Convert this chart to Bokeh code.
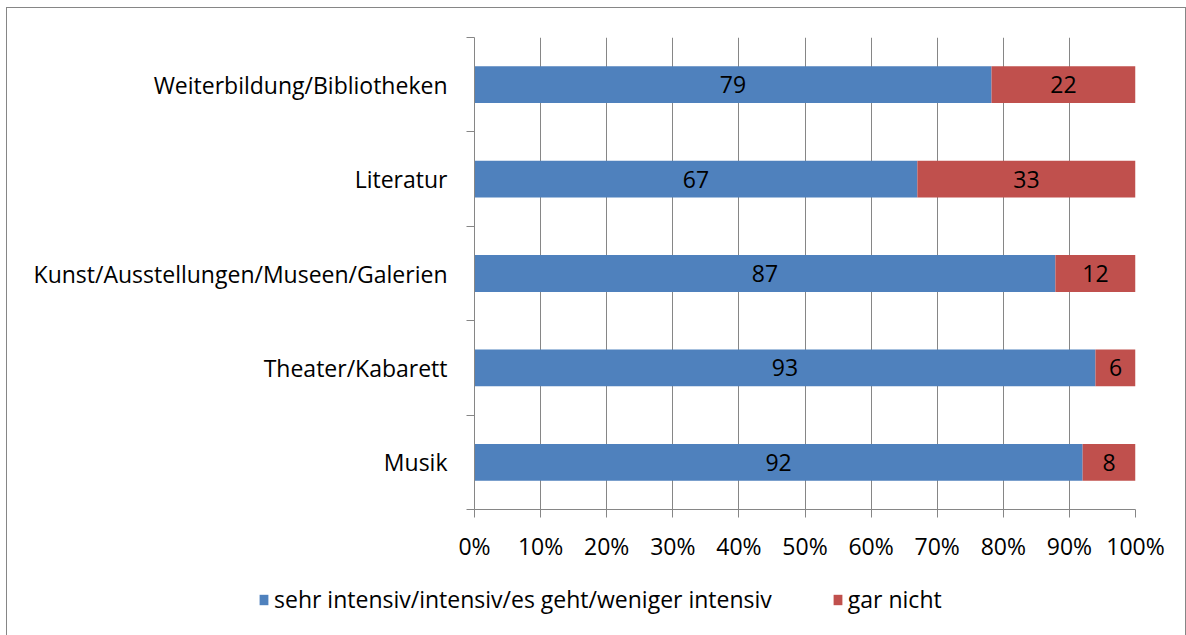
import numpy as np
from bokeh.plotting import figure
from bokeh.layouts import column, row, Spacer
from bokeh.models import ColumnDataSource, FixedTicker, Legend, LegendItem, NumeralTickFormatter
from bokeh.core.properties import value
from bokeh.embed import file_html
from bokeh.resources import INLINE

categories = ["Musik", "Theater/Kabarett", "Kunst/Ausstellungen/Museen/Galerien",
              "Literatur", "Weiterbildung/Bibliotheken"]
intensiv = [92, 93, 87, 67, 79]
gar_nicht = [8, 6, 12, 33, 22]
series_names = ["sehr intensiv/intensiv/es geht/weniger intensiv", "gar nicht"]
x_ticks = [0, 0.1, 0.2, 0.3, 0.4, 0.5, 0.6, 0.7, 0.8, 0.9, 1.0]

FONT = "Open Sans"
FS = "23px"
BLUE = "#4F81BD"
RED = "#C0504D"
GRID = "#868686"
W = 1180

a = np.array(intensiv, dtype=float)
b = np.array(gar_nicht, dtype=float)
tot = a + b
fa = a / tot
fb = b / tot
ypos = np.arange(len(categories)) + 0.5

src = ColumnDataSource(dict(
    y=ypos, fa=fa, fb=fb, end=np.ones(len(categories)),
    ca=fa / 2, cb=fa + fb / 2,
    ta=[str(v) for v in intensiv], tb=[str(v) for v in gar_nicht],
))

p = figure(width=W, height=563, output_backend="svg", toolbar_location=None,
           x_range=(0, 1), y_range=(0, len(categories)),
           min_border_left=467, min_border_right=52, min_border_top=29, min_border_bottom=62)
p.styles = {"border-top": "1px solid #868686", "border-left": "1px solid #868686",
            "border-right": "1px solid #868686"}
p.outline_line_color = None
p.background_fill_color = "white"
p.border_fill_color = "white"

r1 = p.hbar(y="y", left=0, right="fa", height=0.39, source=src, fill_color=BLUE, line_color=None)
r2 = p.hbar(y="y", left="fa", right="end", height=0.39, source=src, fill_color=RED, line_color=None)

p.text(x="ca", y="y", text="ta", source=src, text_align="center", text_baseline="middle",
       text_font=value(FONT), text_font_size=FS, text_color="black")
p.text(x="cb", y="y", text="tb", source=src, text_align="center", text_baseline="middle",
       text_font=value(FONT), text_font_size=FS, text_color="black")

# x axis
p.xaxis.ticker = FixedTicker(ticks=x_ticks)
p.xaxis.formatter = NumeralTickFormatter(format="0%")
p.xaxis.axis_line_color = GRID
p.xaxis.major_tick_line_color = GRID
p.xaxis.major_tick_out = 8
p.xaxis.major_tick_in = 0
p.xaxis.minor_tick_line_color = None
p.xaxis.major_label_standoff = 12
p.xaxis.major_label_text_font = FONT
p.xaxis.major_label_text_font_size = FS
p.xaxis.major_label_text_color = "black"

# y axis
p.yaxis.ticker = FixedTicker(ticks=list(ypos), minor_ticks=list(np.arange(len(categories) + 1)))
p.yaxis.major_label_overrides = {float(y): c for y, c in zip(ypos, categories)}
p.yaxis.axis_line_color = GRID
p.yaxis.major_tick_line_color = None
p.yaxis.major_tick_out = 0
p.yaxis.major_tick_in = 0
p.yaxis.minor_tick_line_color = GRID
p.yaxis.minor_tick_out = 8
p.yaxis.minor_tick_in = 0
p.yaxis.major_label_standoff = 19
p.yaxis.major_label_text_font = FONT
p.yaxis.major_label_text_font_size = FS
p.yaxis.major_label_text_color = "black"

p.xgrid.ticker = FixedTicker(ticks=x_ticks)
p.xgrid.grid_line_color = GRID
p.ygrid.grid_line_color = None

# legend strip
leg = figure(width=W, height=65, output_backend="svg", toolbar_location=None,
             x_range=(0, 1), y_range=(0, 1), x_axis_type=None, y_axis_type=None,
             min_border=0, min_border_left=0, min_border_right=0, min_border_top=0, min_border_bottom=0)
leg.styles = {"border-left": "1px solid #868686", "border-right": "1px solid #868686"}
leg.outline_line_color = None
leg.xgrid.grid_line_color = None
leg.ygrid.grid_line_color = None
# swatch renderers (placed outside the visible range; only their legend glyphs show)
swatch = ColumnDataSource(dict(y=[-5.0], l=[0.0], r=[0.1]))
lr1 = leg.hbar(y="y", left="l", right="r", height=0.5, source=swatch, fill_color=BLUE, line_color=None)
lr2 = leg.hbar(y="y", left="l", right="r", height=0.5, source=swatch, fill_color=RED, line_color=None)
legend = Legend(items=[LegendItem(label=series_names[0], renderers=[lr1]),
                       LegendItem(label=series_names[1], renderers=[lr2])],
                orientation="horizontal", location=(251, 20),
                label_text_font=FONT, label_text_font_size=FS, label_text_color="black",
                glyph_width=11, glyph_height=13, label_standoff=5, spacing=60,
                border_line_color=None, background_fill_alpha=0, padding=0, margin=0)
leg.add_layout(legend, "center")

layout = column(Spacer(height=7),
                row(Spacer(width=6), column(row(p), row(leg), spacing=0)),
                spacing=0)
open("out.html", "w").write(file_html(layout, INLINE))
